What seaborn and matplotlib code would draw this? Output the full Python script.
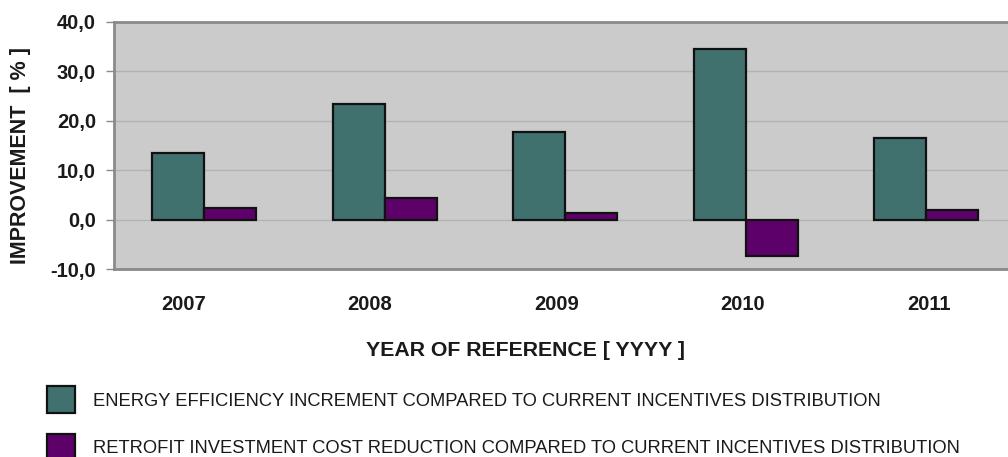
import matplotlib
matplotlib.use("Agg")
import matplotlib.pyplot as plt
import seaborn as sns
import pandas as pd

years = ["2007", "2008", "2009", "2010", "2011"]
energy_efficiency = [13.5, 23.4, 17.8, 34.5, 16.6]
cost_reduction = [2.4, 4.4, 1.4, -7.3, 2.0]
series_names = [
    "ENERGY EFFICIENCY INCREMENT COMPARED TO CURRENT INCENTIVES DISTRIBUTION",
    "RETROFIT INVESTMENT COST REDUCTION COMPARED TO CURRENT INCENTIVES DISTRIBUTION",
]
y_ticks = [-10, 0, 10, 20, 30, 40]
y_tick_labels = ["-10,0", "0,0", "10,0", "20,0", "30,0", "40,0"]

df = pd.DataFrame({
    "year": years * 2,
    "value": energy_efficiency + cost_reduction,
    "series": [series_names[0]] * len(years) + [series_names[1]] * len(years),
})

W, H = 1008, 457


def fx(px):
    return px / W


def fy(py):
    return 1 - py / H


sns.set_theme(style="white")
plt.rcParams["font.family"] = ["Liberation Sans", "DejaVu Sans"]
TXT = "#1a1a1a"

fig = plt.figure(figsize=(W / 100, H / 100), dpi=100)
ax = fig.add_axes([fx(114), fy(269), fx(1016.5) - fx(114), fy(22) - fy(269)])
ax.set_facecolor("#cbcbcb")

sns.barplot(data=df, x="year", y="value", hue="series",
            palette=["#40716f", "#5e006a"], saturation=1, width=0.576,
            edgecolor="#111111", linewidth=1.6, ax=ax, zorder=3)

ax.set_xlim(-0.5, 4.5)
ax.set_ylim(-10, 40)
ax.set_yticks(y_ticks)
ax.set_yticklabels(y_tick_labels)
ax.yaxis.grid(True, color="#b3b3b3", linewidth=1.0, zorder=0)
ax.set_axisbelow(True)
for sp in ax.spines.values():
    sp.set_color("#8a8a8a")
    sp.set_linewidth(2)

# year labels sit on a slightly wider spacing than the bar groups
label_pos = [-0.115 + 1.033 * i for i in range(len(years))]
ax.set_xticks(label_pos)
ax.set_xticklabels(years)

ax.tick_params(axis="y", left=True, length=6, width=1, color="#8a8a8a",
               labelsize=14.5, pad=7, labelcolor=TXT)
ax.tick_params(axis="x", bottom=False, labelsize=14.5, pad=13, labelcolor=TXT)
for lbl in ax.get_yticklabels() + ax.get_xticklabels():
    lbl.set_fontweight("bold")

ax.set_ylabel("IMPROVEMENT  [ % ]", fontsize=15.5, fontweight="bold", color=TXT,
              va="center")
ax.yaxis.set_label_coords(fx(21), fy(156), transform=fig.transFigure)
ax.set_xlabel("")
fig.text(fx(526), fy(350), "YEAR OF REFERENCE [ YYYY ]", ha="center", va="center",
         fontsize=15.3, fontweight="bold", color=TXT)

sns.move_legend(ax, "upper left", bbox_to_anchor=(fx(47), fy(386)),
                bbox_transform=fig.transFigure, frameon=False, title=None,
                borderpad=0, borderaxespad=0,
                handlelength=1.55, handleheight=1.93, handletextpad=0.95,
                labelspacing=1.1, prop={"size": 13.2})
leg = ax.get_legend()
for t in leg.get_texts():
    t.set_color(TXT)

fig.savefig("out.png", dpi=100)
